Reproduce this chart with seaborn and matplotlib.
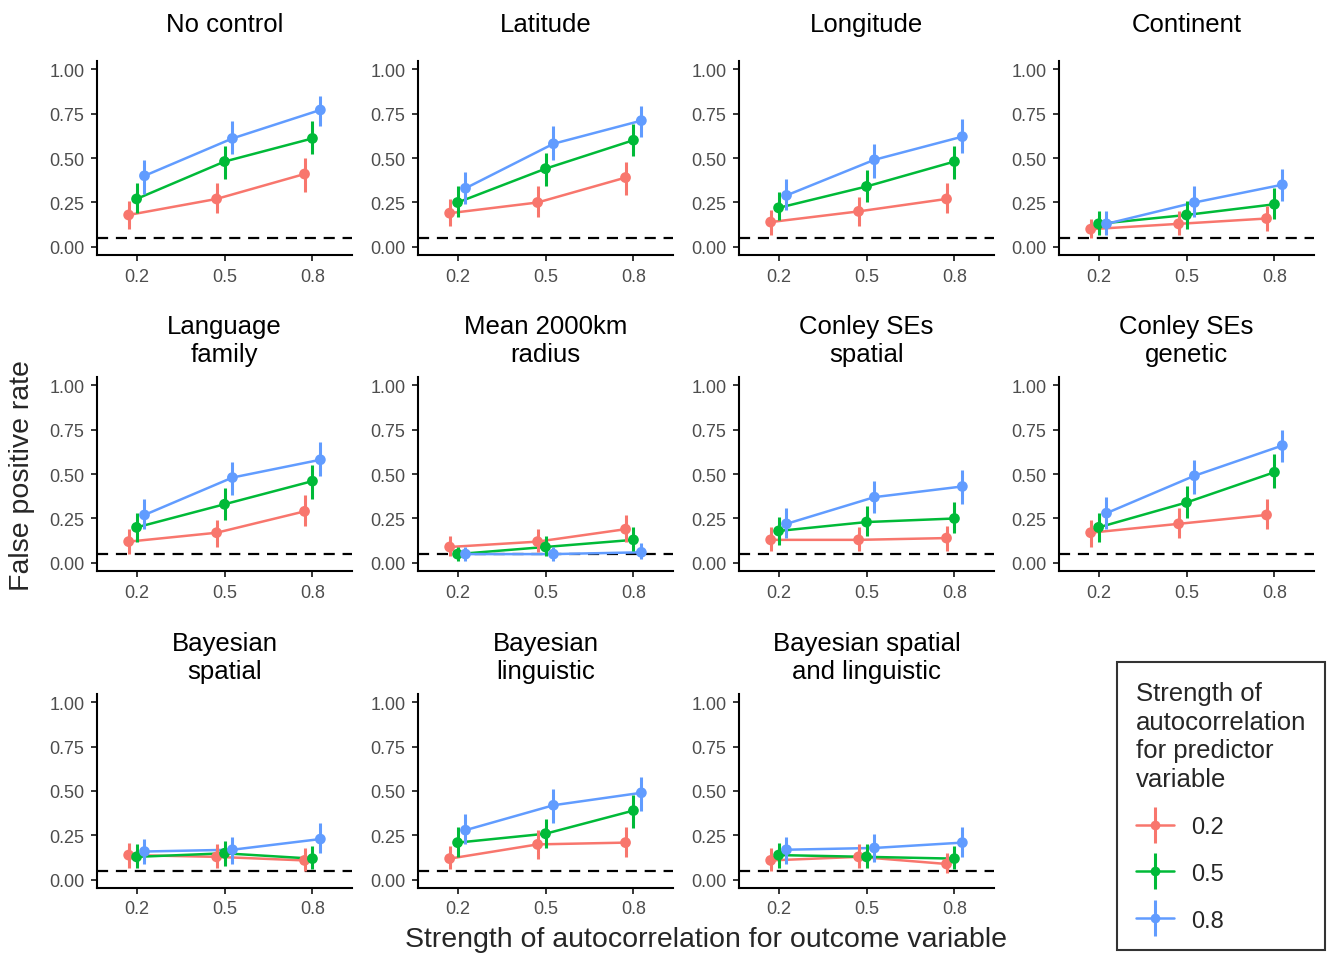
import numpy as np
import pandas as pd
import matplotlib
matplotlib.use("Agg")
import matplotlib.pyplot as plt
from matplotlib.lines import Line2D
from matplotlib.legend_handler import HandlerTuple
import seaborn as sns

# facet labels (control method)
controls = ["No control", "Latitude", "Longitude", "Continent",
            "Language\nfamily", "Mean 2000km\nradius", "Conley SEs\nspatial", "Conley SEs\ngenetic",
            "Bayesian\nspatial", "Bayesian\nlinguistic", "Bayesian spatial\nand linguistic"]
outcome_levels = [0.2, 0.5, 0.8]
predictor_levels = ["0.2", "0.5", "0.8"]

# false positive rate, one row per control, columns = outcome autocorrelation 0.2/0.5/0.8
fpr_pred02 = [[0.18, 0.27, 0.41], [0.19, 0.25, 0.39], [0.14, 0.20, 0.27], [0.10, 0.13, 0.16],
              [0.12, 0.17, 0.29], [0.09, 0.12, 0.19], [0.13, 0.13, 0.14], [0.17, 0.22, 0.27],
              [0.14, 0.13, 0.11], [0.12, 0.20, 0.21], [0.11, 0.13, 0.09]]
lo_pred02 = [[0.10, 0.19, 0.31], [0.12, 0.17, 0.29], [0.07, 0.12, 0.19], [0.05, 0.07, 0.09],
             [0.05, 0.09, 0.21], [0.04, 0.06, 0.12], [0.07, 0.07, 0.07], [0.09, 0.14, 0.19],
             [0.07, 0.07, 0.05], [0.06, 0.12, 0.13], [0.05, 0.07, 0.04]]
hi_pred02 = [[0.26, 0.36, 0.50], [0.27, 0.34, 0.48], [0.21, 0.28, 0.36], [0.16, 0.20, 0.23],
             [0.19, 0.24, 0.38], [0.15, 0.19, 0.27], [0.20, 0.20, 0.21], [0.24, 0.31, 0.36],
             [0.21, 0.20, 0.18], [0.19, 0.28, 0.30], [0.18, 0.20, 0.15]]

fpr_pred05 = [[0.27, 0.48, 0.61], [0.25, 0.44, 0.60], [0.22, 0.34, 0.48], [0.13, 0.18, 0.24],
              [0.20, 0.33, 0.46], [0.05, 0.09, 0.13], [0.18, 0.23, 0.25], [0.20, 0.34, 0.51],
              [0.13, 0.15, 0.12], [0.21, 0.26, 0.39], [0.14, 0.13, 0.12]]
lo_pred05 = [[0.19, 0.38, 0.52], [0.17, 0.34, 0.51], [0.15, 0.25, 0.38], [0.07, 0.10, 0.16],
             [0.12, 0.24, 0.36], [0.01, 0.04, 0.07], [0.10, 0.15, 0.17], [0.12, 0.25, 0.42],
             [0.07, 0.08, 0.06], [0.13, 0.18, 0.29], [0.07, 0.07, 0.06]]
hi_pred05 = [[0.36, 0.57, 0.71], [0.34, 0.53, 0.69], [0.31, 0.43, 0.57], [0.20, 0.26, 0.33],
             [0.28, 0.42, 0.55], [0.09, 0.15, 0.20], [0.26, 0.32, 0.34], [0.28, 0.43, 0.61],
             [0.20, 0.22, 0.19], [0.30, 0.34, 0.48], [0.21, 0.20, 0.19]]

fpr_pred08 = [[0.40, 0.61, 0.77], [0.33, 0.58, 0.71], [0.29, 0.49, 0.62], [0.13, 0.25, 0.35],
              [0.27, 0.48, 0.58], [0.05, 0.05, 0.06], [0.22, 0.37, 0.43], [0.28, 0.49, 0.66],
              [0.16, 0.17, 0.23], [0.28, 0.42, 0.49], [0.17, 0.18, 0.21]]
lo_pred08 = [[0.30, 0.52, 0.68], [0.24, 0.49, 0.62], [0.21, 0.39, 0.53], [0.07, 0.17, 0.26],
             [0.19, 0.38, 0.49], [0.01, 0.01, 0.02], [0.14, 0.28, 0.33], [0.19, 0.39, 0.57],
             [0.09, 0.09, 0.15], [0.20, 0.32, 0.39], [0.09, 0.10, 0.13]]
hi_pred08 = [[0.49, 0.71, 0.85], [0.42, 0.68, 0.79], [0.38, 0.58, 0.72], [0.20, 0.34, 0.44],
             [0.36, 0.57, 0.68], [0.09, 0.09, 0.11], [0.31, 0.46, 0.52], [0.37, 0.58, 0.75],
             [0.23, 0.24, 0.32], [0.37, 0.51, 0.58], [0.24, 0.26, 0.30]]

palette = {"0.2": "#F8766D", "0.5": "#00BA38", "0.8": "#619CFF"}
dodge = {"0.2": -0.027, "0.5": 0.0, "0.8": 0.027}

# long format table
rows = []
for lvl, fpr, lo, hi in [("0.2", fpr_pred02, lo_pred02, hi_pred02),
                         ("0.5", fpr_pred05, lo_pred05, hi_pred05),
                         ("0.8", fpr_pred08, lo_pred08, hi_pred08)]:
    for i, ctrl in enumerate(controls):
        for j, xo in enumerate(outcome_levels):
            rows.append({"control": ctrl, "outcome": xo, "predictor": lvl,
                         "fpr": fpr[i][j], "lo": lo[i][j], "hi": hi[i][j]})
df = pd.DataFrame(rows)
df["xd"] = df["outcome"] + df["predictor"].map(dodge)

sns.set_theme(style="ticks")
plt.rcParams["font.family"] = ["Liberation Sans", "DejaVu Sans"]

W, H = 1328, 954
fig = plt.figure(figsize=(W / 100, H / 100), dpi=100)

col_left = [97, 418, 739, 1059]
row_top = [62, 378, 695]
ax_w, ax_h = 255, 194

for i, ctrl in enumerate(controls):
    r, c = divmod(i, 4)
    ax = fig.add_axes([col_left[c] / W, 1 - (row_top[r] + ax_h) / H, ax_w / W, ax_h / H])
    sub = df[df["control"] == ctrl]
    ax.axhline(0.05, color="black", ls=(0, (5, 3.5)), lw=1.6, zorder=1)
    sns.lineplot(data=sub, x="xd", y="fpr", hue="predictor", palette=palette,
                 estimator=None, errorbar=None, linewidth=1.8, legend=False, ax=ax, zorder=2)
    for lvl in predictor_levels:
        s = sub[sub["predictor"] == lvl]
        ax.vlines(s["xd"], s["lo"], s["hi"], color=palette[lvl], lw=2.2, zorder=3)
    sns.scatterplot(data=sub, x="xd", y="fpr", hue="predictor", palette=palette,
                    s=60, linewidth=0, legend=False, ax=ax, zorder=4)
    ax.set_xlim(0.065, 0.935)
    ax.set_ylim(-0.045, 1.045)
    ax.set_xticks(outcome_levels)
    ax.set_xticklabels([str(v) for v in outcome_levels])
    ax.set_yticks([0, 0.25, 0.5, 0.75, 1.0])
    ax.set_yticklabels(["0.00", "0.25", "0.50", "0.75", "1.00"])
    ax.set_xlabel("")
    ax.set_ylabel("")
    sns.despine(ax=ax)
    for sp in ["left", "bottom"]:
        ax.spines[sp].set_linewidth(1.5)
        ax.spines[sp].set_color("black")
    ax.tick_params(axis="both", length=4, width=1.1, color="black",
                   labelcolor="#4d4d4d", labelsize=13, pad=5)
    ax.text(0.5, 1 + 37 / ax_h, ctrl, transform=ax.transAxes, ha="center", va="center",
            fontsize=18.5, linespacing=1.25, color="black")

fig.text(22 / W, 1 - 476 / H, "False positive rate", rotation=90, ha="center", va="center",
         fontsize=20.5)
fig.text(706 / W, 1 - 940 / H, "Strength of autocorrelation for outcome variable",
         ha="center", va="center", fontsize=20.5)

handles = []
for lvl in predictor_levels:
    h_line = Line2D([], [], color=palette[lvl], lw=1.8, marker="o", markersize=7, markeredgewidth=0)
    h_bar = Line2D([], [], color=palette[lvl], lw=0, marker="|", markersize=26, markeredgewidth=2.2)
    handles.append((h_line, h_bar))
leg = fig.legend(handles, predictor_levels, handler_map={tuple: HandlerTuple(ndivide=1)},
                 title="Strength of\nautocorrelation\nfor predictor\nvariable",
                 loc="upper left", bbox_to_anchor=(1117 / W, 1 - 663 / H), borderaxespad=0,
                 fontsize=17, title_fontsize=18.5, frameon=True, fancybox=False,
                 handlelength=1.6, handletextpad=0.75, labelspacing=1.05, borderpad=0.8,
                 alignment="left")
leg.get_frame().set_edgecolor("black")
leg.get_frame().set_linewidth(1.5)
leg.get_title().set_linespacing(1.25)

fig.savefig("out.png", dpi=100)
